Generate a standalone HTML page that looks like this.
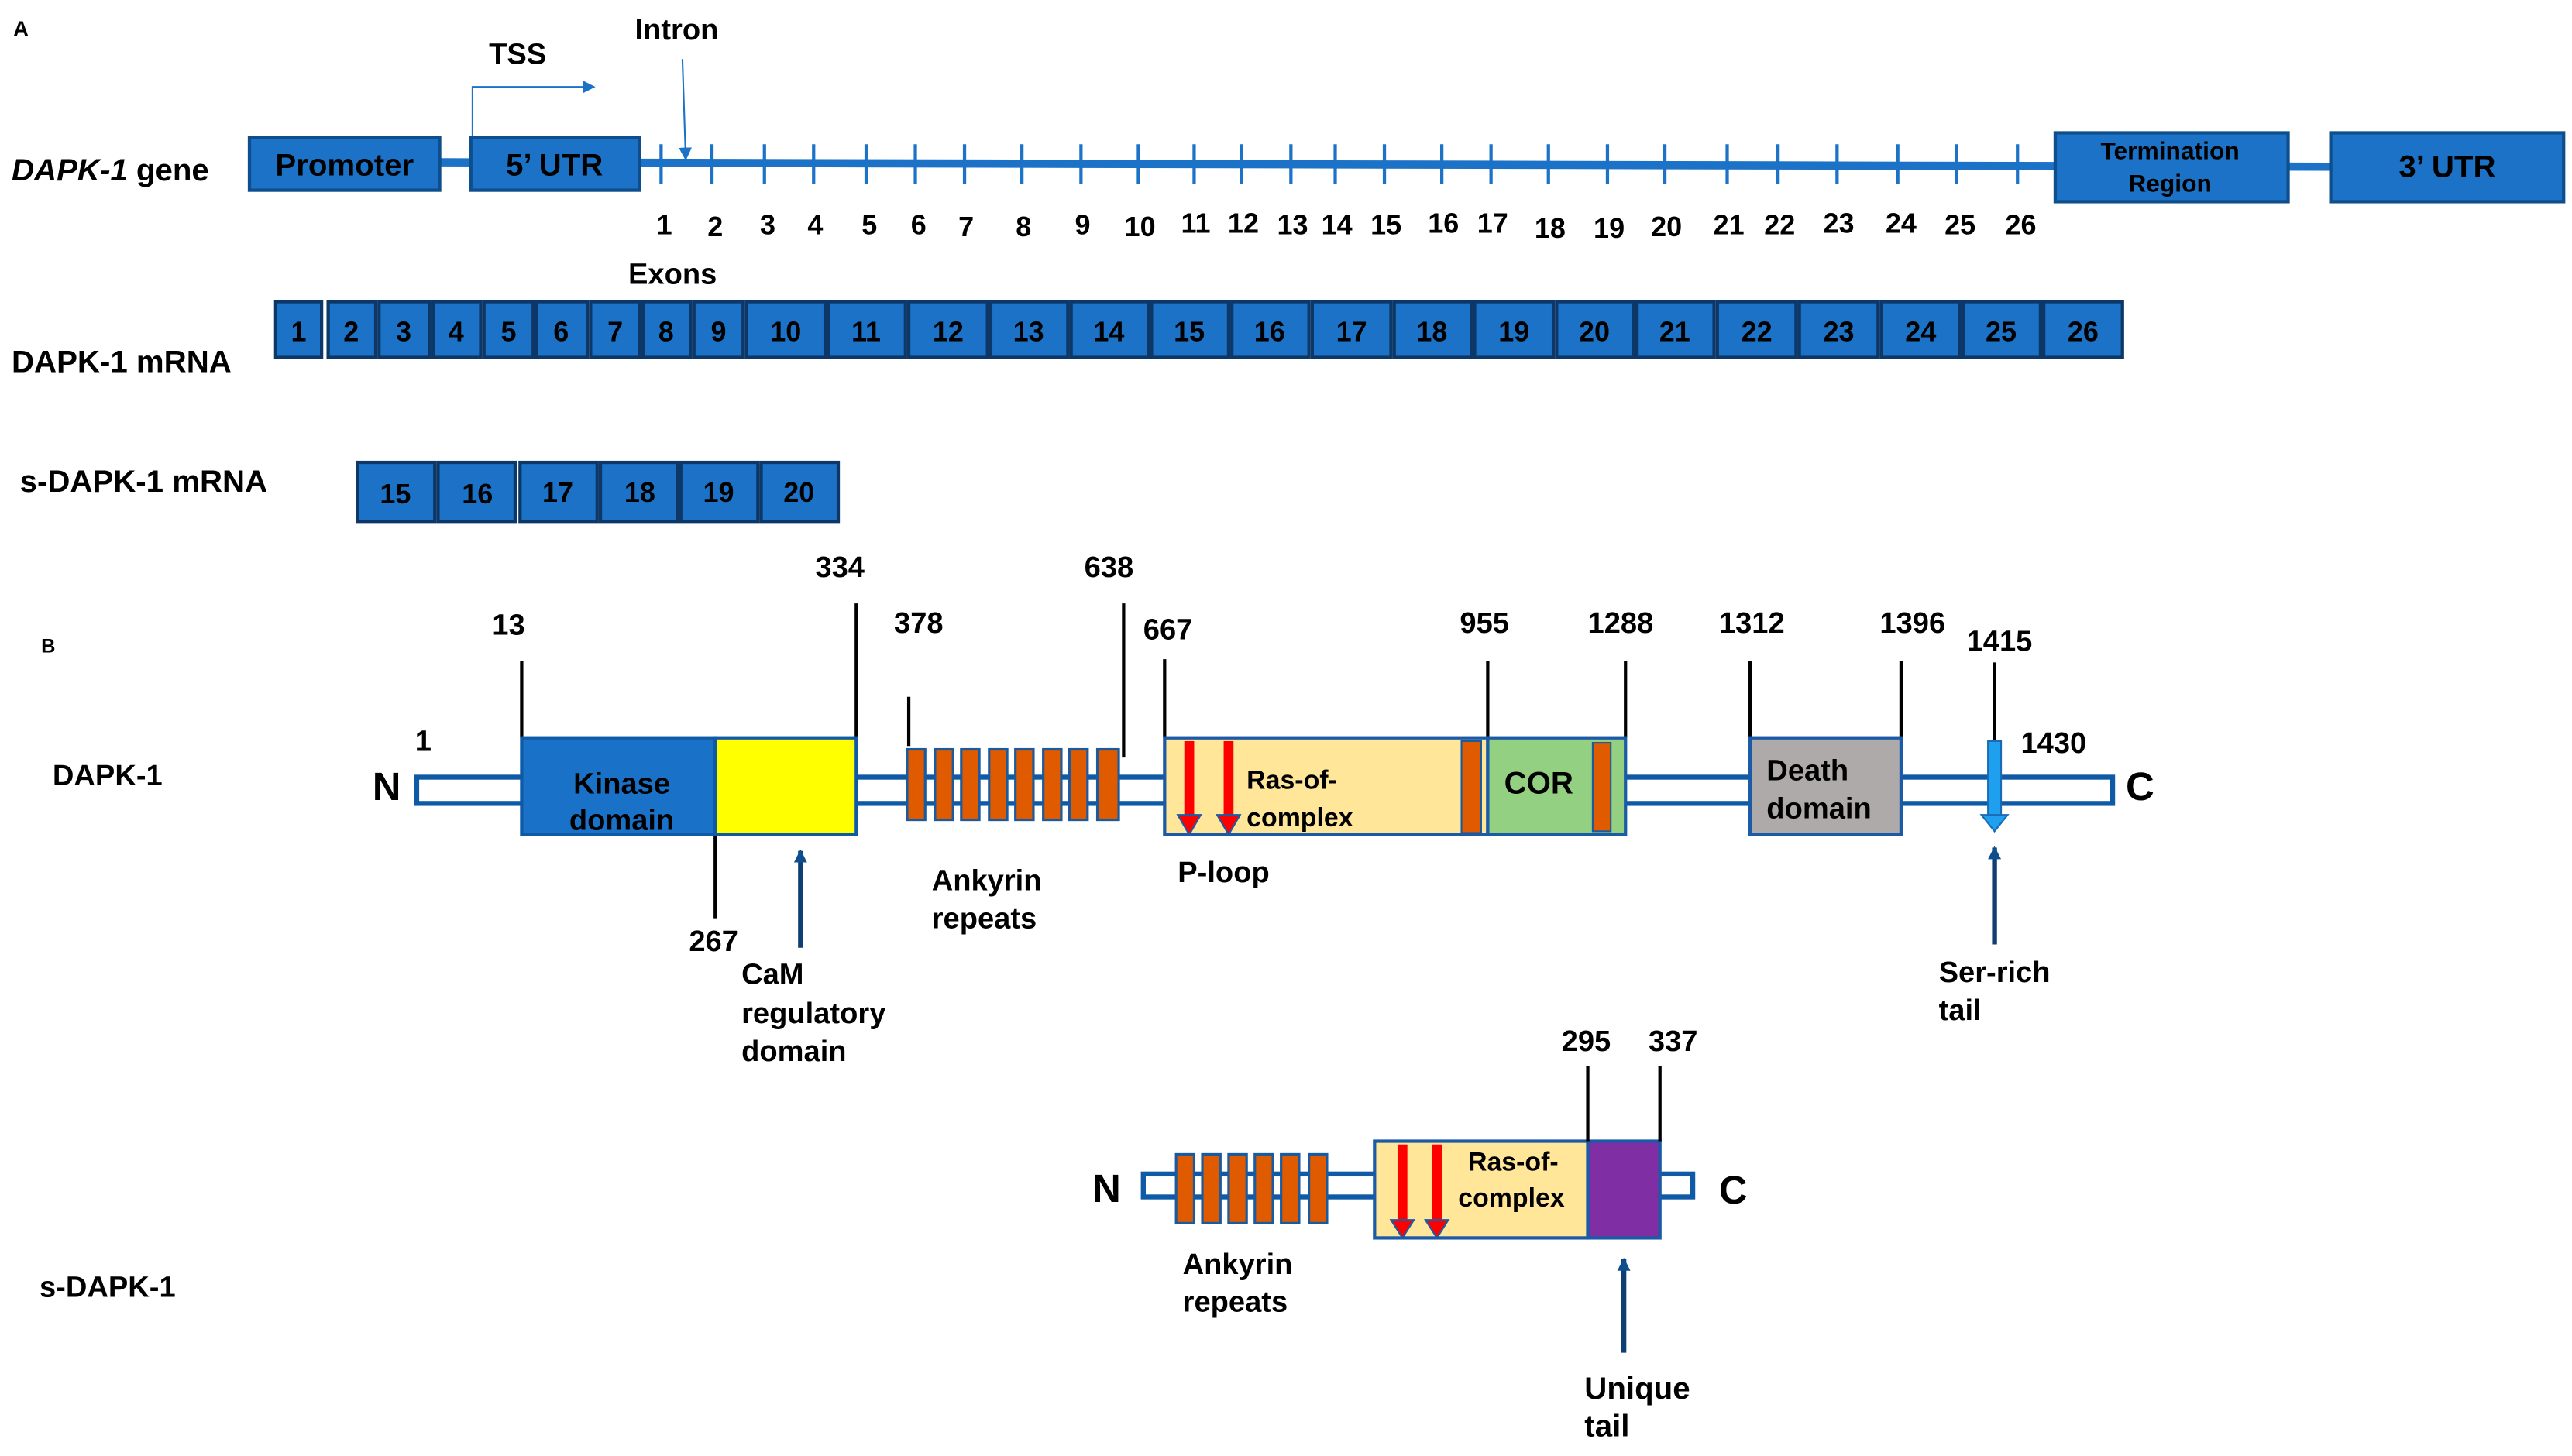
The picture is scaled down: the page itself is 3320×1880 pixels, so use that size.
<!DOCTYPE html>
<html><head><meta charset="utf-8"><style>html,body{margin:0;padding:0;background:#fff}svg{display:block}</style></head>
<body>
<svg width="3320" height="1880" viewBox="0 0 1568 888" xmlns="http://www.w3.org/2000/svg" font-family="Liberation Sans, Arial, sans-serif" font-weight="bold">
<defs>
<marker id="ab" markerWidth="8" markerHeight="8" refX="7" refY="4" orient="auto" markerUnits="userSpaceOnUse"><path d="M0,0 L8,4 L0,8 z" fill="#1b72c6"/></marker>
<marker id="ad" markerWidth="8" markerHeight="8" refX="7" refY="4" orient="auto" markerUnits="userSpaceOnUse"><path d="M0,0 L8,4 L0,8 z" fill="#0f4e8c"/></marker>
</defs>
<rect width="1568" height="888" fill="#fff"/>
<!-- Part A -->
<text x="8" y="22" font-size="13">A</text>
<text x="298" y="39" font-size="18">TSS</text>
<polyline points="288,84 288,53 362,53" fill="none" stroke="#1b72c6" stroke-width="1" marker-end="url(#ab)"/>
<text x="387" y="24" font-size="18">Intron</text>
<line x1="416" y1="36" x2="418" y2="97" stroke="#1b72c6" stroke-width="1" marker-end="url(#ab)"/>
<text x="7" y="110" font-size="19"><tspan font-style="italic">DAPK-1</tspan> gene</text>
<line x1="268" y1="99" x2="1560" y2="102" stroke="#1b72c6" stroke-width="5"/>
<g fill="#1b72c6" stroke="#0f4e8c" stroke-width="2">
<rect x="152" y="84" width="116" height="32"/>
<rect x="287" y="84" width="103" height="32"/>
<rect x="1253" y="81" width="142" height="42"/>
<rect x="1421" y="81" width="142" height="42"/>
</g>
<g font-size="19" text-anchor="middle" fill="#000">
<text x="210" y="107">Promoter</text>
<text x="338" y="107">5’ UTR</text>
<text x="1492" y="108">3’ UTR</text>
</g>
<text x="1323" y="97" font-size="15" text-anchor="middle">Termination</text>
<text x="1323" y="117" font-size="15" text-anchor="middle">Region</text>
<g stroke="#1b72c6" stroke-width="2">
<line x1="403" y1="88" x2="403" y2="112"/><line x1="434" y1="88" x2="434" y2="112"/><line x1="466" y1="88" x2="466" y2="112"/><line x1="496" y1="88" x2="496" y2="112"/><line x1="528" y1="88" x2="528" y2="112"/><line x1="558" y1="88" x2="558" y2="112"/><line x1="588" y1="88" x2="588" y2="112"/><line x1="623" y1="88" x2="623" y2="112"/><line x1="659" y1="88" x2="659" y2="112"/><line x1="694" y1="88" x2="694" y2="112"/><line x1="728" y1="88" x2="728" y2="112"/><line x1="757" y1="88" x2="757" y2="112"/><line x1="787" y1="88" x2="787" y2="112"/><line x1="814" y1="88" x2="814" y2="112"/><line x1="844" y1="88" x2="844" y2="112"/><line x1="879" y1="88" x2="879" y2="112"/><line x1="909" y1="88" x2="909" y2="112"/><line x1="944" y1="88" x2="944" y2="112"/><line x1="980" y1="88" x2="980" y2="112"/><line x1="1015" y1="88" x2="1015" y2="112"/><line x1="1053" y1="88" x2="1053" y2="112"/><line x1="1084" y1="88" x2="1084" y2="112"/><line x1="1120" y1="88" x2="1120" y2="112"/><line x1="1157" y1="88" x2="1157" y2="112"/><line x1="1193" y1="88" x2="1193" y2="112"/><line x1="1230" y1="88" x2="1230" y2="112"/>
</g>
<g font-size="17" text-anchor="middle">
<text x="405" y="143">1</text><text x="436" y="144">2</text><text x="468" y="143">3</text><text x="497" y="143">4</text><text x="530" y="143">5</text><text x="560" y="143">6</text><text x="589" y="144">7</text><text x="624" y="144">8</text><text x="660" y="143">9</text><text x="695" y="144">10</text><text x="729" y="142">11</text><text x="758" y="142">12</text><text x="788" y="143">13</text><text x="815" y="143">14</text><text x="845" y="143">15</text><text x="880" y="142">16</text><text x="910" y="142">17</text><text x="945" y="145">18</text><text x="981" y="145">19</text><text x="1016" y="144">20</text><text x="1054" y="143">21</text><text x="1085" y="143">22</text><text x="1121" y="142">23</text><text x="1159" y="142">24</text><text x="1195" y="143">25</text><text x="1232" y="143">26</text>
</g>
<text x="383" y="173" font-size="18">Exons</text>
<text x="7" y="227" font-size="19">DAPK-1 mRNA</text>
<g fill="#1b72c6" stroke="#0c3766" stroke-width="2">
<rect x="168" y="184" width="28" height="34"/><rect x="200" y="184" width="29" height="34"/><rect x="231" y="184" width="31" height="34"/><rect x="264" y="184" width="29" height="34"/><rect x="295" y="184" width="30" height="34"/><rect x="327" y="184" width="31" height="34"/><rect x="360" y="184" width="30" height="34"/><rect x="392" y="184" width="29" height="34"/><rect x="423" y="184" width="30" height="34"/><rect x="455" y="184" width="48" height="34"/><rect x="505" y="184" width="47" height="34"/><rect x="554" y="184" width="48" height="34"/><rect x="604" y="184" width="47" height="34"/><rect x="653" y="184" width="47" height="34"/><rect x="702" y="184" width="47" height="34"/><rect x="751" y="184" width="47" height="34"/><rect x="800" y="184" width="48" height="34"/><rect x="850" y="184" width="47" height="34"/><rect x="899" y="184" width="48" height="34"/><rect x="949" y="184" width="47" height="34"/><rect x="998" y="184" width="47" height="34"/><rect x="1047" y="184" width="48" height="34"/><rect x="1097" y="184" width="48" height="34"/><rect x="1147" y="184" width="48" height="34"/><rect x="1197" y="184" width="47" height="34"/><rect x="1246" y="184" width="48" height="34"/>
</g>
<g font-size="17" text-anchor="middle">
<text x="182" y="208">1</text><text x="214" y="208">2</text><text x="246" y="208">3</text><text x="278" y="208">4</text><text x="310" y="208">5</text><text x="342" y="208">6</text><text x="375" y="208">7</text><text x="406" y="208">8</text><text x="438" y="208">9</text><text x="479" y="208">10</text><text x="528" y="208">11</text><text x="578" y="208">12</text><text x="627" y="208">13</text><text x="676" y="208">14</text><text x="725" y="208">15</text><text x="774" y="208">16</text><text x="824" y="208">17</text><text x="873" y="208">18</text><text x="923" y="208">19</text><text x="972" y="208">20</text><text x="1021" y="208">21</text><text x="1071" y="208">22</text><text x="1121" y="208">23</text><text x="1171" y="208">24</text><text x="1220" y="208">25</text><text x="1270" y="208">26</text>
</g>
<text x="12" y="300" font-size="19">s-DAPK-1 mRNA</text>
<g fill="#1b72c6" stroke="#0c3766" stroke-width="2">
<rect x="218" y="282" width="47" height="36"/><rect x="267" y="282" width="47" height="36"/><rect x="317" y="282" width="47" height="36"/><rect x="366" y="282" width="47" height="36"/><rect x="415" y="282" width="47" height="36"/><rect x="464" y="282" width="47" height="36"/>
</g>
<g font-size="17" text-anchor="middle">
<text x="241" y="307">15</text><text x="291" y="307">16</text><text x="340" y="306">17</text><text x="390" y="306">18</text><text x="438" y="306">19</text><text x="487" y="306">20</text>
</g>
<!-- Part B -->
<text x="25" y="398" font-size="12">B</text>
<text x="32" y="479" font-size="18">DAPK-1</text>
<text x="227" y="488" font-size="24">N</text>
<text x="253" y="458" font-size="18">1</text>
<text x="1232" y="459" font-size="18">1430</text>
<text x="1296" y="488" font-size="24">C</text>
<rect x="254" y="474" width="1034" height="16" fill="#fff" stroke="#0f5aa6" stroke-width="3"/>
<g font-size="18" fill="#000">
<text x="300" y="387">13</text><text x="497" y="352">334</text><text x="545" y="386">378</text><text x="661" y="352">638</text><text x="697" y="390">667</text><text x="890" y="386">955</text><text x="968" y="386">1288</text><text x="1048" y="386">1312</text><text x="1146" y="386">1396</text><text x="1199" y="397">1415</text><text x="420" y="580">267</text>
</g>
<g stroke="#000" stroke-width="2">
<line x1="318" y1="403" x2="318" y2="450"/><line x1="522" y1="368" x2="522" y2="452"/><line x1="554" y1="425" x2="554" y2="455"/><line x1="685" y1="368" x2="685" y2="462"/><line x1="710" y1="402" x2="710" y2="450"/><line x1="907" y1="403" x2="907" y2="450"/><line x1="991" y1="403" x2="991" y2="450"/><line x1="1067" y1="403" x2="1067" y2="450"/><line x1="1159" y1="403" x2="1159" y2="450"/><line x1="1216" y1="404" x2="1216" y2="452"/><line x1="436" y1="509" x2="436" y2="560"/>
</g>
<rect x="318" y="450" width="118" height="59" fill="#1a72c8" stroke="#0f5aa6" stroke-width="2"/>
<rect x="436" y="450" width="86" height="59" fill="#ffff00" stroke="#0f5aa6" stroke-width="2"/>
<text x="379" y="484" font-size="18" text-anchor="middle">Kinase</text>
<text x="379" y="506" font-size="18" text-anchor="middle">domain</text>
<g fill="#e05a00" stroke="#1a5a9e" stroke-width="1.5">
<rect x="553" y="457" width="11" height="43"/><rect x="570" y="457" width="11" height="43"/><rect x="586" y="457" width="11" height="43"/><rect x="603" y="457" width="11" height="43"/><rect x="619" y="457" width="11" height="43"/><rect x="636" y="457" width="11" height="43"/><rect x="652" y="457" width="11" height="43"/><rect x="669" y="457" width="13" height="43"/>
</g>
<text x="568" y="543" font-size="18">Ankyrin</text>
<text x="568" y="566" font-size="18">repeats</text>
<line x1="488" y1="578" x2="488" y2="519" stroke="#0f3f72" stroke-width="3" marker-end="url(#ad)"/>
<text x="452" y="600" font-size="18">CaM</text>
<text x="452" y="624" font-size="18">regulatory</text>
<text x="452" y="647" font-size="18">domain</text>
<rect x="710" y="450" width="197" height="59" fill="#ffe699" stroke="#1a5aa6" stroke-width="2"/>
<rect x="891" y="452" width="12" height="56" fill="#e05a00" stroke="#1a5a9e" stroke-width="1"/>
<rect x="907" y="450" width="84" height="59" fill="#94d082" stroke="#1a5aa6" stroke-width="2"/>
<rect x="971" y="453" width="11" height="54" fill="#e05a00" stroke="#1a5a9e" stroke-width="1"/>
<g>
<rect x="722" y="452" width="6" height="46" fill="#ff0000"/><path d="M718,497 L732,497 L725,509 z" fill="#ff0000" stroke="#1a5aa6" stroke-width="1"/>
<rect x="746" y="452" width="6" height="46" fill="#ff0000"/><path d="M742,497 L756,497 L749,509 z" fill="#ff0000" stroke="#1a5aa6" stroke-width="1"/>
</g>
<text x="760" y="481" font-size="16">Ras-of-</text>
<text x="760" y="504" font-size="16">complex</text>
<text x="917" y="484" font-size="19">COR</text>
<text x="718" y="538" font-size="18">P-loop</text>
<rect x="1067" y="450" width="92" height="59" fill="#aeaaaa" stroke="#1a5aa6" stroke-width="2"/>
<text x="1077" y="476" font-size="18">Death</text>
<text x="1077" y="499" font-size="18">domain</text>
<rect x="1212" y="452" width="8" height="46" fill="#1ea0ee" stroke="#1a6ab6" stroke-width="1"/>
<path d="M1208,497 L1224,497 L1216,507 z" fill="#1ea0ee" stroke="#1a6ab6" stroke-width="1"/>
<line x1="1216" y1="576" x2="1216" y2="517" stroke="#0f3f72" stroke-width="3" marker-end="url(#ad)"/>
<text x="1182" y="599" font-size="18">Ser-rich</text>
<text x="1182" y="622" font-size="18">tail</text>
<!-- s-DAPK-1 -->
<text x="24" y="791" font-size="18">s-DAPK-1</text>
<text x="666" y="733" font-size="24">N</text>
<text x="1048" y="734" font-size="24">C</text>
<rect x="697" y="716" width="335" height="14" fill="#fff" stroke="#0f5aa6" stroke-width="3"/>
<g fill="#e05a00" stroke="#1a5a9e" stroke-width="1.5">
<rect x="717" y="704" width="11" height="42"/><rect x="733" y="704" width="11" height="42"/><rect x="749" y="704" width="11" height="42"/><rect x="765" y="704" width="11" height="42"/><rect x="781" y="704" width="11" height="42"/><rect x="798" y="704" width="11" height="42"/>
</g>
<text x="721" y="777" font-size="18">Ankyrin</text>
<text x="721" y="800" font-size="18">repeats</text>
<rect x="838" y="696" width="130" height="59" fill="#ffe699" stroke="#1a5aa6" stroke-width="2"/>
<g>
<rect x="852" y="698" width="6" height="47" fill="#ff0000"/><path d="M848,744 L862,744 L855,755 z" fill="#ff0000" stroke="#1a5aa6" stroke-width="1"/>
<rect x="873" y="698" width="6" height="47" fill="#ff0000"/><path d="M869,744 L883,744 L876,755 z" fill="#ff0000" stroke="#1a5aa6" stroke-width="1"/>
</g>
<text x="895" y="714" font-size="16">Ras-of-</text>
<text x="889" y="736" font-size="16">complex</text>
<rect x="968" y="696" width="44" height="59" fill="#7f2fa3" stroke="#1a5aa6" stroke-width="2"/>
<g stroke="#000" stroke-width="2"><line x1="968" y1="650" x2="968" y2="696"/><line x1="1012" y1="650" x2="1012" y2="696"/></g>
<text x="952" y="641" font-size="18">295</text>
<text x="1005" y="641" font-size="18">337</text>
<line x1="990" y1="825" x2="990" y2="768" stroke="#0f3f72" stroke-width="3" marker-end="url(#ad)"/>
<text x="966" y="853" font-size="19">Unique</text>
<text x="966" y="876" font-size="19">tail</text>
</svg>
</body></html>
